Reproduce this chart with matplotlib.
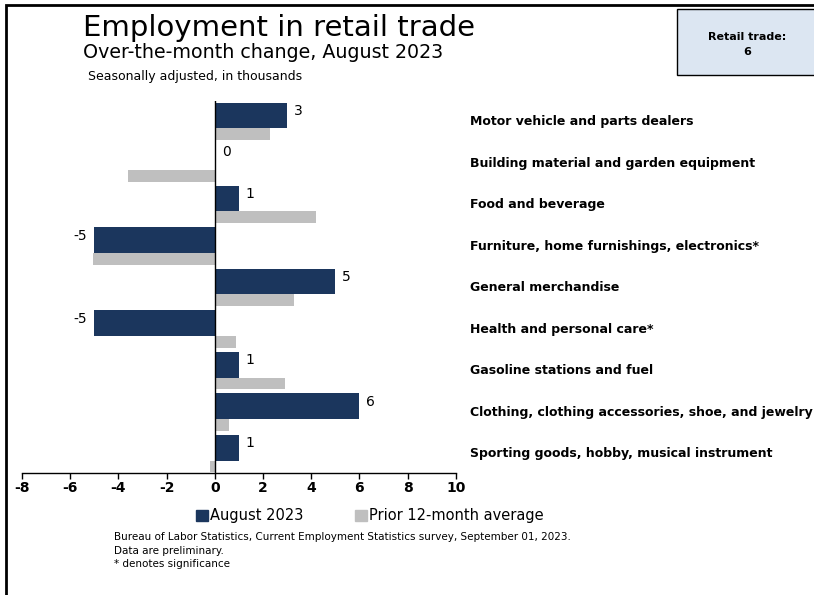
import numpy as np
import matplotlib
matplotlib.use('Agg')
import matplotlib.pyplot as plt
from matplotlib.patches import Rectangle, Patch

# data (thousands, seasonally adjusted)
categories = ['Motor vehicle and parts dealers',
              'Building material and garden equipment',
              'Food and beverage',
              'Furniture, home furnishings, electronics*',
              'General merchandise',
              'Health and personal care*',
              'Gasoline stations and fuel',
              'Clothing, clothing accessories, shoe, and jewelry',
              'Sporting goods, hobby, musical instrument']
aug_2023 = [3, 0, 1, -5, 5, -5, 1, 6, 1]
prior_avg = [2.3, -3.6, 4.2, -5.05, 3.3, 0.9, 2.9, 0.6, -0.2]
xticks = [-8, -6, -4, -2, 0, 2, 4, 6, 8, 10]
total_change = 6

navy = '#1b365d'
grey = '#bfbfbf'

plt.rcParams['font.family'] = ['DejaVu Sans']

fig = plt.figure(figsize=(8.14, 5.95), dpi=100)
ax = fig.add_axes([22 / 814, 1 - 473 / 595, (455.7 - 22) / 814, (473 - 101) / 595])

y = np.arange(len(categories))
ax.barh(y - 0.15, aug_2023, height=0.62, color=navy)
ax.barh(y + 0.30, prior_avg, height=0.28, color=grey)
ax.axvline(0, color='black', lw=1)

# value labels on the August bars
for yi, v in zip(y, aug_2023):
    if v < 0:
        ax.annotate(str(v), (v, yi - 0.26), xytext=(-5, 0), textcoords='offset points',
                    ha='right', va='center', fontsize=10)
    else:
        ax.annotate(str(v), (v, yi - 0.26), xytext=(5, 0), textcoords='offset points',
                    ha='left', va='center', fontsize=10)

# category names to the right of the plot
for yi, name in zip(y, categories):
    ax.text(1.033, yi, name, transform=ax.get_yaxis_transform(), ha='left', va='center',
            fontsize=9, fontweight='bold', clip_on=False)

ax.set_xlim(-8, 10)
ax.set_ylim(8.46, -0.5)
ax.set_xticks(xticks)
ax.set_xticklabels([str(t) for t in xticks], fontweight='bold', fontsize=10)
ax.set_yticks([])
for s in ['top', 'left', 'right']:
    ax.spines[s].set_visible(False)
ax.spines['bottom'].set_linewidth(1)
ax.tick_params(axis='x', direction='out', length=4, width=1, pad=2)

# titles
fig.text(83 / 814, 1 - 35.5 / 595, 'Employment in retail trade', fontsize=21, va='baseline')
fig.text(83 / 814, 1 - 58.5 / 595, 'Over-the-month change, August 2023', fontsize=13.7, va='baseline')
fig.text(88 / 814, 1 - 80 / 595, 'Seasonally adjusted, in thousands', fontsize=9, va='baseline')

# summary box top right
fig.patches.append(Rectangle((676.7 / 814, 1 - 75.3 / 595), 0.3, 66 / 595,
                             transform=fig.transFigure, facecolor='#dce6f2',
                             edgecolor='black', lw=1))
fig.text(747 / 814, 1 - 37 / 595, 'Retail trade:', fontsize=8, fontweight='bold',
         ha='center', va='center')
fig.text(747 / 814, 1 - 52 / 595, str(total_change), fontsize=8, fontweight='bold',
         ha='center', va='center')

# legend
handles = [Patch(color=navy, label='August 2023'),
           Patch(color=grey, label='Prior 12-month average')]
fig.legend(handles=handles, loc='center', bbox_to_anchor=(370 / 814, 1 - 515.7 / 595),
           ncol=2, frameon=False, fontsize=10.5, handlelength=0.8, handleheight=0.8,
           handletextpad=0.2, columnspacing=3.5, borderpad=0)

# notes
notes = ['Bureau of Labor Statistics, Current Employment Statistics survey, September 01, 2023.',
         'Data are preliminary.',
         '* denotes significance']
for i, line in enumerate(notes):
    fig.text(114 / 814, 1 - (536.7 + 13.8 * i) / 595, line, fontsize=7.5, va='center')

# outer frame
fig.patches.append(Rectangle((5.5 / 814, -0.1), 1.2, 1.0924, transform=fig.transFigure,
                             fill=False, edgecolor='black', lw=2))

fig.savefig('out.png', dpi=100)
